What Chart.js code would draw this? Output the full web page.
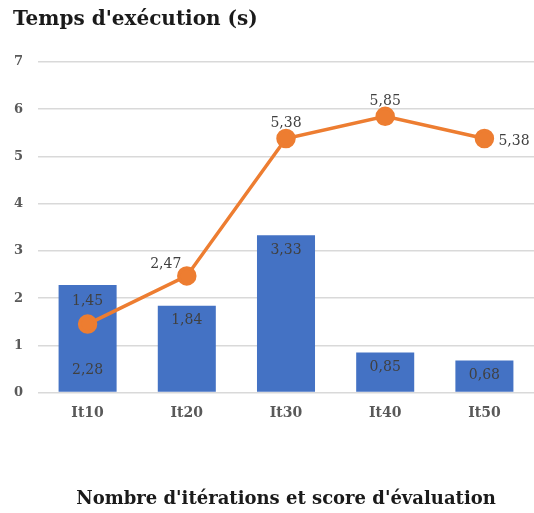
<!DOCTYPE html>
<html lang="fr">
<head>
<meta charset="UTF-8">
<title>Temps d'exécution</title>
<script src="https://cdn.jsdelivr.net/npm/chart.js"></script>
<style>
    html, body { margin: 0; padding: 0; background: #fff; }
    #wrap { width: 534px; height: 513px; }
</style>
</head>
<body>
<div id="wrap"><canvas id="chart" width="534" height="513"></canvas></div>
<script>
const categories = ['It10', 'It20', 'It30', 'It40', 'It50'];
const tempsBarres = [2.28, 1.84, 3.33, 0.85, 0.68];
const scoreLigne = [1.45, 2.47, 5.38, 5.85, 5.38];
const yTicks = [0, 1, 2, 3, 4, 5, 6, 7];

const serif = "'DejaVu Serif', 'Liberation Serif', serif";
const fmt = v => v.toFixed(2).replace('.', ',');

// étiquettes de données façon Excel
const etiquettes = {
    id: 'etiquettes',
    afterDatasetsDraw(chart) {
        const ctx = chart.ctx;
        ctx.save();
        ctx.font = '14px ' + serif;
        ctx.fillStyle = '#404040';
        ctx.textBaseline = 'middle';

        const barMeta = chart.getDatasetMeta(0);
        const yScale = chart.scales.y;
        barMeta.data.forEach((bar, i) => {
            ctx.textAlign = 'center';
            let y = bar.y + 15;
            if (i === 0) y = yScale.getPixelForValue(0) - 22; // base
            ctx.fillText(fmt(tempsBarres[i]), bar.x, y);
        });

        const lineMeta = chart.getDatasetMeta(1);
        const pos = ['above', 'left', 'above', 'above', 'right'];
        lineMeta.data.forEach((pt, i) => {
            let x = pt.x, y = pt.y - 15;
            ctx.textAlign = 'center';
            if (i === 0) y = pt.y - 23;
            if (pos[i] === 'left') { x = pt.x - 21; y = pt.y - 12; }
            if (pos[i] === 'right') { ctx.textAlign = 'left'; x = pt.x + 14; y = pt.y + 3; }
            ctx.fillText(fmt(scoreLigne[i]), x, y);
        });
        ctx.restore();
    }
};

new Chart(document.getElementById('chart'), {
    data: {
        labels: categories,
        datasets: [
            {
                type: 'bar',
                data: tempsBarres,
                backgroundColor: '#4472C4',
                barPercentage: 0.585,
                categoryPercentage: 1,
                order: 2
            },
            {
                type: 'line',
                data: scoreLigne,
                borderColor: '#ED7D31',
                backgroundColor: '#ED7D31',
                borderWidth: 3.5,
                pointRadius: 8,
                pointHoverRadius: 8,
                tension: 0,
                order: 1
            }
        ]
    },
    options: {
        responsive: false,
        animation: false,
        layout: { autoPadding: false, padding: { left: 13, right: 0, top: 8, bottom: 3 } },
        plugins: {
            legend: { display: false },
            tooltip: { enabled: false },
            title: {
                display: true,
                text: "Temps d'exécution (s)",
                align: 'start',
                color: '#1a1a1a',
                font: { family: serif, size: 20, weight: 'bold' },
                padding: { top: 0, bottom: 30 }
            }
        },
        scales: {
            x: {
                grid: { display: false },
                border: { display: false },
                ticks: {
                    color: '#595959',
                    font: { family: serif, size: 14, weight: 'bold' },
                    padding: 4
                },
                title: {
                    display: true,
                    text: "Nombre d'itérations et score d'évaluation",
                    color: '#1a1a1a',
                    font: { family: serif, size: 18, weight: 'bold' },
                    padding: { top: 63, bottom: 0 }
                }
            },
            y: {
                min: 0,
                max: 7,
                afterBuildTicks: s => { s.ticks = yTicks.map(v => ({ value: v })); },
                afterFit: s => { s.width = 25; },
                grid: { color: '#d9d9d9', lineWidth: 1.5, drawTicks: false },
                border: { display: false },
                ticks: {
                    color: '#595959',
                    font: { family: serif, size: 13, weight: 'bold' },
                    padding: 15
                }
            }
        }
    },
    plugins: [etiquettes]
});
</script>
</body>
</html>
